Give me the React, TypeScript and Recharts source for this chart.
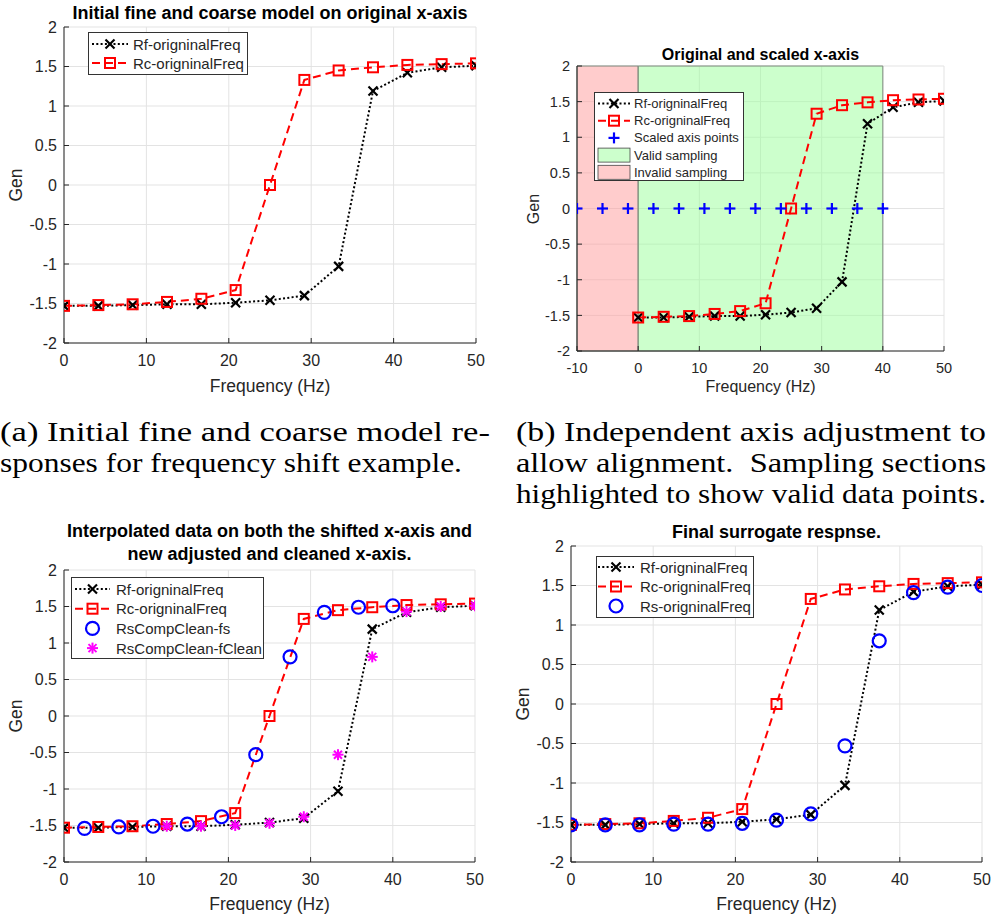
import React from 'react'
import { ComposedChart, Line, Scatter, XAxis, YAxis, CartesianGrid, ReferenceArea } from 'recharts'

// original frequency axis and the two model responses
const freq = [0, 4.17, 8.33, 12.5, 16.67, 20.83, 25, 29.17, 33.33, 37.5, 41.67, 45.83, 50]
const rfGen = [-1.53, -1.53, -1.52, -1.51, -1.51, -1.49, -1.46, -1.4, -1.03, 1.19, 1.42, 1.49, 1.51]
const rcGen = [-1.53, -1.52, -1.51, -1.48, -1.44, -1.33, 0, 1.33, 1.45, 1.49, 1.52, 1.53, 1.54]

// (b) scaled axis points
const scaledFreq = [-10, -5.83, -1.67, 2.5, 6.67, 10.83, 15, 19.17, 23.33, 27.5, 31.67, 35.83, 40]
const scaledGen = [0, 0, 0, 0, 0, 0, 0, 0, 0, 0, 0, 0, 0]

// (c) interpolated data
const fsFreq = [2.5, 6.67, 10.83, 15, 19.17, 23.33, 27.5, 31.67, 35.83, 40]
const fsGen = [-1.54, -1.52, -1.51, -1.48, -1.38, -0.53, 0.81, 1.42, 1.49, 1.51]
const cleanFreq = [12.5, 16.67, 20.83, 25, 29.17, 33.33, 37.5, 41.67, 45.83, 50]
const cleanGen = [-1.51, -1.51, -1.5, -1.47, -1.38, -0.53, 0.81, 1.43, 1.5, 1.51]

// (d) surrogate
const rsGen = [-1.53, -1.53, -1.53, -1.52, -1.52, -1.51, -1.47, -1.39, -0.53, 0.8, 1.41, 1.48, 1.5]

const yTicks = [-2, -1.5, -1, -0.5, 0, 0.5, 1, 1.5, 2]
const xTicks = [0, 10, 20, 30, 40, 50]
const xTicksWide = [-10, 0, 10, 20, 30, 40, 50]

const pts = (xs: number[], ys: number[]) => xs.map((x, i) => ({ x, y: ys[i] }))

const AXIS = '#262626'
const GRID = '#e3e3e3'
const SANS = '"Liberation Sans", Arial, sans-serif'
const SERIF = '"Liberation Serif", "Times New Roman", serif'

type Kind = 'x' | 'square' | 'circle' | 'plus' | 'star'

function Marker({ kind, cx, cy }: { kind: Kind; cx: number; cy: number }) {
  if (cx == null || cy == null) return null
  if (kind === 'x') {
    const s = 4.5
    return (
      <g stroke="#000" strokeWidth={2.2}>
        <line x1={cx - s} y1={cy - s} x2={cx + s} y2={cy + s} />
        <line x1={cx - s} y1={cy + s} x2={cx + s} y2={cy - s} />
      </g>
    )
  }
  if (kind === 'square') {
    return <rect x={cx - 5} y={cy - 5} width={10} height={10} fill="none" stroke="#ff0000" strokeWidth={2} />
  }
  if (kind === 'circle') {
    return <circle cx={cx} cy={cy} r={6.5} fill="none" stroke="#0000ff" strokeWidth={2.2} />
  }
  if (kind === 'plus') {
    return (
      <g stroke="#0000ff" strokeWidth={2.2}>
        <line x1={cx - 5.5} y1={cy} x2={cx + 5.5} y2={cy} />
        <line x1={cx} y1={cy - 5.5} x2={cx} y2={cy + 5.5} />
      </g>
    )
  }
  const a = 5.5
  const d = 4
  return (
    <g stroke="#ff00ff" strokeWidth={2}>
      <line x1={cx - a} y1={cy} x2={cx + a} y2={cy} />
      <line x1={cx} y1={cy - a} x2={cx} y2={cy + a} />
      <line x1={cx - d} y1={cy - d} x2={cx + d} y2={cy + d} />
      <line x1={cx - d} y1={cy + d} x2={cx + d} y2={cy - d} />
    </g>
  )
}

const DOTTED = '2 2.3'
const DASHED = '8 5'

type Series = { name: string; data: { x: number; y: number }[]; mark: Kind; stroke?: string; dash?: string }
type LegendItem = { label: string; mark?: Kind; stroke?: string; dash?: string; patch?: string }
type Rect = { x0: number; x1: number; y0: number; y1: number }

interface PanelProps {
  box: { x: number; y: number; w: number; h: number }
  plot: Rect
  xDomain: [number, number]
  ticks: number[]
  series: Series[]
  areas?: { x1: number; x2: number; fill: string }[]
  title: string[]
  titleY: number[]
  titleFont: number
  xLabelY: number
  yLabelX: number
  tickFont: number
  labelFont: number
  legend: {
    x: number; y: number; w: number; h: number
    row0: number; step: number; sx0: number; sx1: number; tx: number; fs: number
    items: LegendItem[]
  }
}

function Legend({ legend }: { legend: PanelProps['legend'] }) {
  const { x, y, w, h, row0, step, sx0, sx1, tx, fs, items } = legend
  return (
    <svg style={{ position: 'absolute', left: x, top: y }} width={w} height={h}>
      <rect x={0.5} y={0.5} width={w - 1} height={h - 1} fill="#fff" stroke="#333" strokeWidth={1} />
      {items.map((it, i) => {
        const cy = row0 - y + i * step
        const a = sx0 - x
        const b = sx1 - x
        return (
          <g key={it.label}>
            {it.patch && (
              <rect x={a} y={cy - 7} width={b - a} height={14} fill={it.patch} stroke="#444" strokeWidth={0.8} />
            )}
            {it.stroke && (
              <line x1={a} y1={cy} x2={b} y2={cy} stroke={it.stroke} strokeWidth={2} strokeDasharray={it.dash} />
            )}
            {it.mark && <Marker kind={it.mark} cx={(a + b) / 2} cy={cy} />}
            <text x={tx - x} y={cy} dominantBaseline="central" style={{ fontFamily: SANS }} fontSize={fs} fill="#262626">
              {it.label}
            </text>
          </g>
        )
      })}
    </svg>
  )
}

function Panel(p: PanelProps) {
  const yAxisW = 50
  const xAxisH = 40
  const { box, plot } = p
  const margin = {
    left: plot.x0 - box.x - yAxisW,
    right: box.x + box.w - plot.x1,
    top: plot.y0 - box.y,
    bottom: box.y + box.h - plot.y1 - xAxisH,
  }
  const midX = (plot.x0 + plot.x1) / 2
  const midY = (plot.y0 + plot.y1) / 2
  const tick = { fontSize: p.tickFont, fill: AXIS, fontFamily: SANS }
  return (
    <>
      <div style={{ position: 'absolute', left: box.x, top: box.y }}>
        <ComposedChart width={box.w} height={box.h} margin={margin}>
          <CartesianGrid stroke={GRID} strokeWidth={1} />
          {(p.areas || []).map((a) => (
            <ReferenceArea
              key={a.x1}
              x1={a.x1}
              x2={a.x2}
              y1={-2}
              y2={2}
              fill={a.fill}
              fillOpacity={0.5}
              stroke="#7f8a7f"
              strokeWidth={1}
            />
          ))}
          <XAxis
            type="number"
            dataKey="x"
            domain={p.xDomain}
            ticks={p.ticks}
            allowDataOverflow
            height={xAxisH}
            stroke={AXIS}
            tick={tick}
            tickSize={-5}
            tickMargin={17}
          />
          <YAxis
            type="number"
            dataKey="y"
            domain={[-2, 2]}
            ticks={yTicks}
            allowDataOverflow
            width={yAxisW}
            stroke={AXIS}
            tick={tick}
            tickSize={-5}
            tickMargin={12}
          />
          {p.series.map((s) =>
            s.stroke ? (
              <Line
                key={s.name}
                data={s.data}
                dataKey="y"
                type="linear"
                stroke={s.stroke}
                strokeWidth={2}
                strokeDasharray={s.dash}
                isAnimationActive={false}
                activeDot={false}
                dot={(d: any) => <Marker key={`${s.name}-${d.index}`} kind={s.mark} cx={d.cx} cy={d.cy} />}
              />
            ) : (
              <Scatter
                key={s.name}
                data={s.data}
                dataKey="y"
                isAnimationActive={false}
                shape={(d: any) => <Marker kind={s.mark} cx={d.cx} cy={d.cy} />}
              />
            )
          )}
        </ComposedChart>
      </div>
      {p.title.map((t, i) => (
        <div
          key={t}
          style={{
            position: 'absolute',
            left: midX - 260,
            width: 520,
            top: p.titleY[i] - 12,
            height: 24,
            lineHeight: '24px',
            textAlign: 'center',
            fontFamily: SANS,
            fontWeight: 'bold',
            fontSize: p.titleFont,
            color: '#000',
            whiteSpace: 'nowrap',
          }}
        >
          {t}
        </div>
      ))}
      <div
        style={{
          position: 'absolute',
          left: midX - 100,
          width: 200,
          top: p.xLabelY - 12,
          lineHeight: '24px',
          textAlign: 'center',
          fontFamily: SANS,
          fontSize: p.labelFont,
          color: AXIS,
        }}
      >
        Frequency (Hz)
      </div>
      <div
        style={{
          position: 'absolute',
          left: p.yLabelX - 30,
          width: 60,
          top: midY - 12,
          lineHeight: '24px',
          textAlign: 'center',
          fontFamily: SANS,
          fontSize: p.labelFont,
          color: AXIS,
          transform: 'rotate(-90deg)',
        }}
      >
        Gen
      </div>
      <Legend legend={p.legend} />
    </>
  )
}

const rfItem: LegendItem = { label: 'Rf-origninalFreq', mark: 'x', stroke: '#000', dash: DOTTED }
const rcItem: LegendItem = { label: 'Rc-origninalFreq', mark: 'square', stroke: '#ff0000', dash: DASHED }
const rfSeries: Series = { name: 'rf', data: pts(freq, rfGen), mark: 'x', stroke: '#000', dash: DOTTED }
const rcSeries: Series = { name: 'rc', data: pts(freq, rcGen), mark: 'square', stroke: '#ff0000', dash: DASHED }

// caption lines: [text, left, right, baseline]
const captionLines: [string, number, number, number][] = [
  ['(a) Initial fine and coarse model re-', 0, 490, 441],
  ['sponses for frequency shift example.', 0, 462, 472],
  ['(b) Independent axis adjustment to', 516, 986, 441],
  ['allow alignment.  Sampling sections', 516, 986, 472],
  ['highlighted to show valid data points.', 516, 986, 503],
]

function Captions() {
  const top = 405
  return (
    <svg style={{ position: 'absolute', left: 0, top }} width={993} height={110}>
      {captionLines.map(([t, x0, x1, base]) => (
        <text
          key={t}
          x={x0}
          y={base - top}
          fontSize={27}
          fill="#000"
          textLength={x1 - x0}
          lengthAdjust="spacingAndGlyphs"
          style={{ whiteSpace: 'pre', fontFamily: SERIF }}
        >
          {t}
        </text>
      ))}
    </svg>
  )
}

export default function App() {
  return (
    <div style={{ position: 'absolute', left: 0, top: 0, width: 993, height: 916, background: '#fff', overflow: 'hidden' }}>
      <Panel
        box={{ x: 0, y: 0, w: 490, h: 405 }}
        plot={{ x0: 64, x1: 476, y0: 27, y1: 343 }}
        xDomain={[0, 50]}
        ticks={xTicks}
        series={[rfSeries, rcSeries]}
        title={['Initial fine and coarse model on original x-axis']}
        titleY={[13]}
        titleFont={18}
        xLabelY={386}
        yLabelX={16}
        tickFont={16}
        labelFont={17.5}
        legend={{ x: 88, y: 32, w: 160, h: 43, row0: 44, step: 19, sx0: 92, sx1: 128, tx: 133, fs: 15, items: [rfItem, rcItem] }}
      />
      <Panel
        box={{ x: 500, y: 0, w: 493, h: 405 }}
        plot={{ x0: 577, x1: 944, y0: 66, y1: 351 }}
        xDomain={[-10, 50]}
        ticks={xTicksWide}
        areas={[
          { x1: -10, x2: 0, fill: '#ff9999' },
          { x1: 0, x2: 40, fill: '#99ff99' },
        ]}
        series={[
          rfSeries,
          rcSeries,
          { name: 'scaled', data: pts(scaledFreq, scaledGen), mark: 'plus' },
        ]}
        title={['Original and scaled x-axis']}
        titleY={[55]}
        titleFont={16}
        xLabelY={387}
        yLabelX={534}
        tickFont={14.5}
        labelFont={16}
        legend={{
          x: 594, y: 92, w: 150, h: 89, row0: 103.5, step: 17.2, sx0: 598, sx1: 630, tx: 634, fs: 13,
          items: [
            rfItem,
            rcItem,
            { label: 'Scaled axis points', mark: 'plus' },
            { label: 'Valid sampling', patch: '#ccffcc' },
            { label: 'Invalid sampling', patch: '#ffcccc' },
          ],
        }}
      />
      <Panel
        box={{ x: 0, y: 510, w: 490, h: 406 }}
        plot={{ x0: 64, x1: 475, y0: 570, y1: 862 }}
        xDomain={[0, 50]}
        ticks={xTicks}
        series={[
          rfSeries,
          rcSeries,
          { name: 'fs', data: pts(fsFreq, fsGen), mark: 'circle' },
          { name: 'fclean', data: pts(cleanFreq, cleanGen), mark: 'star' },
        ]}
        title={['Interpolated data on both the shifted x-axis and', 'new adjusted and cleaned x-axis.']}
        titleY={[531, 554]}
        titleFont={18}
        xLabelY={904}
        yLabelX={16}
        tickFont={16}
        labelFont={17.5}
        legend={{
          x: 71, y: 577, w: 193, h: 82, row0: 589, step: 19.7, sx0: 75, sx1: 110, tx: 116, fs: 15,
          items: [
            rfItem,
            rcItem,
            { label: 'RsCompClean-fs', mark: 'circle' },
            { label: 'RsCompClean-fClean', mark: 'star' },
          ],
        }}
      />
      <Panel
        box={{ x: 500, y: 510, w: 493, h: 406 }}
        plot={{ x0: 571, x1: 982, y0: 546, y1: 862 }}
        xDomain={[0, 50]}
        ticks={xTicks}
        series={[rfSeries, rcSeries, { name: 'rs', data: pts(freq, rsGen), mark: 'circle' }]}
        title={['Final surrogate respnse.']}
        titleY={[532]}
        titleFont={18}
        xLabelY={904}
        yLabelX={523}
        tickFont={16}
        labelFont={17.5}
        legend={{
          x: 596, y: 556, w: 158, h: 62, row0: 567, step: 19.5, sx0: 598, sx1: 634, tx: 640, fs: 15,
          items: [rfItem, rcItem, { label: 'Rs-origninalFreq', mark: 'circle' }],
        }}
      />
      <Captions />
    </div>
  )
}
